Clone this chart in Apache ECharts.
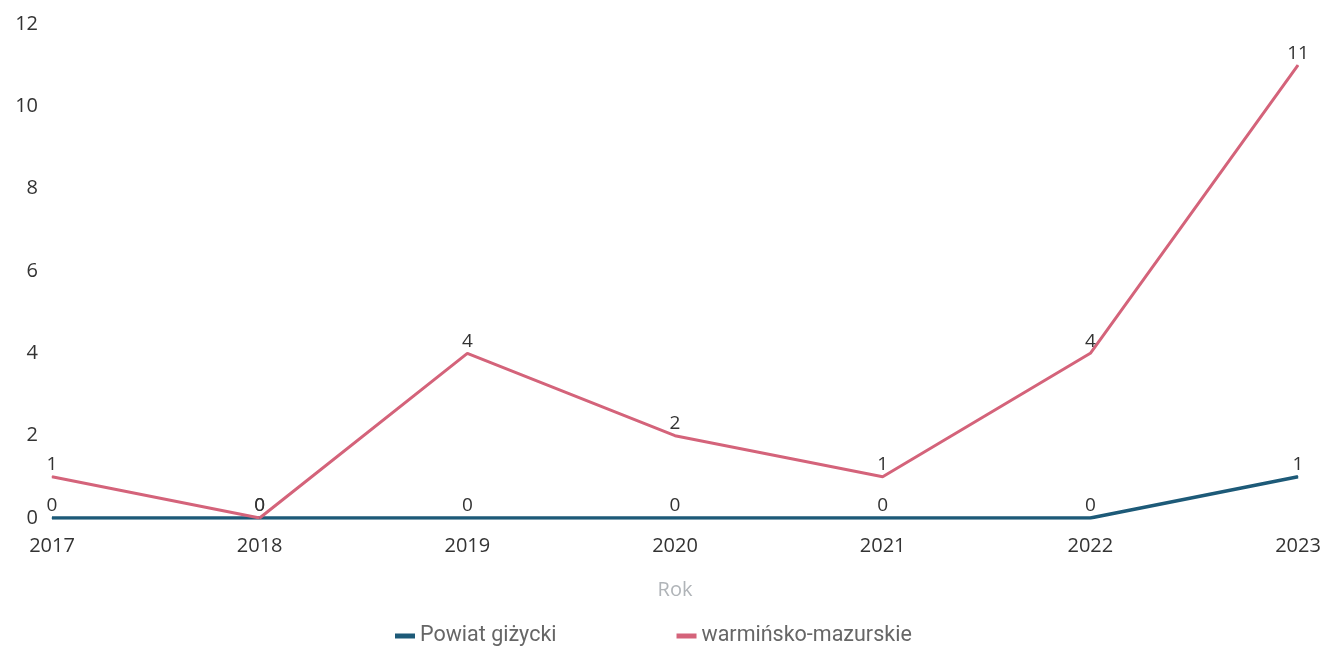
<!DOCTYPE html>
<html><head><meta charset="utf-8">
<script src="https://cdn.jsdelivr.net/npm/echarts@6/dist/echarts.min.js"></script>
<style>html,body{margin:0;padding:0;background:#fff}#c{width:1328px;height:647px}</style>
</head><body><div id="c"></div>
<script>
const years = ['2017','2018','2019','2020','2021','2022','2023'];
const powiat = [0,0,0,0,0,0,1];
const woj = [1,0,4,2,1,4,11];
const seriesNames = ['Powiat giżycki','warmińsko-mazurskie'];
const yTicks = {min:0, max:12, interval:2};

const chart = echarts.init(document.getElementById('c'));
const lbl = {show:true, position:'top', distance:2, color:'#333', fontSize:19, fontFamily:'Open Sans'};
chart.setOption({
  animation:false,
  grid:{left:52, right:30, top:24, bottom:129},
  legend:{top:620, left:390, itemGap:120, itemWidth:20, itemHeight:5, icon:'rect',
    textStyle:{fontSize:21.5, color:'#666', fontFamily:'Roboto'}, data:seriesNames},
  xAxis:{type:'category', data:years, boundaryGap:false, name:'Rok', nameLocation:'middle', nameGap:62,
    nameTextStyle:{color:'#b0b4b8', fontSize:20, fontFamily:'Open Sans'},
    axisLine:{show:false}, axisTick:{show:false},
    axisLabel:{color:'#333', fontSize:20, fontFamily:'Open Sans', margin:18}},
  yAxis:{type:'value', min:yTicks.min, max:yTicks.max, interval:yTicks.interval,
    splitLine:{show:false}, axisLine:{show:false}, axisTick:{show:false},
    axisLabel:{color:'#333', fontSize:20, fontFamily:'Open Sans', margin:14}},
  series:[
    {name:seriesNames[0], type:'line', data:powiat, symbol:'circle', symbolSize:1, showSymbol:true, color:'#1d6585',
      itemStyle:{color:'#1d5a78'},
      lineStyle:{width:3.5, color:'#1d5a78'}, label:lbl},
    {name:seriesNames[1], type:'line', data:woj, symbol:'circle', symbolSize:1, showSymbol:true, color:'#d9707f',
      itemStyle:{color:'#d4637a'},
      lineStyle:{width:3, color:'#d4637a'}, label:lbl}
  ]
});
</script></body></html>
